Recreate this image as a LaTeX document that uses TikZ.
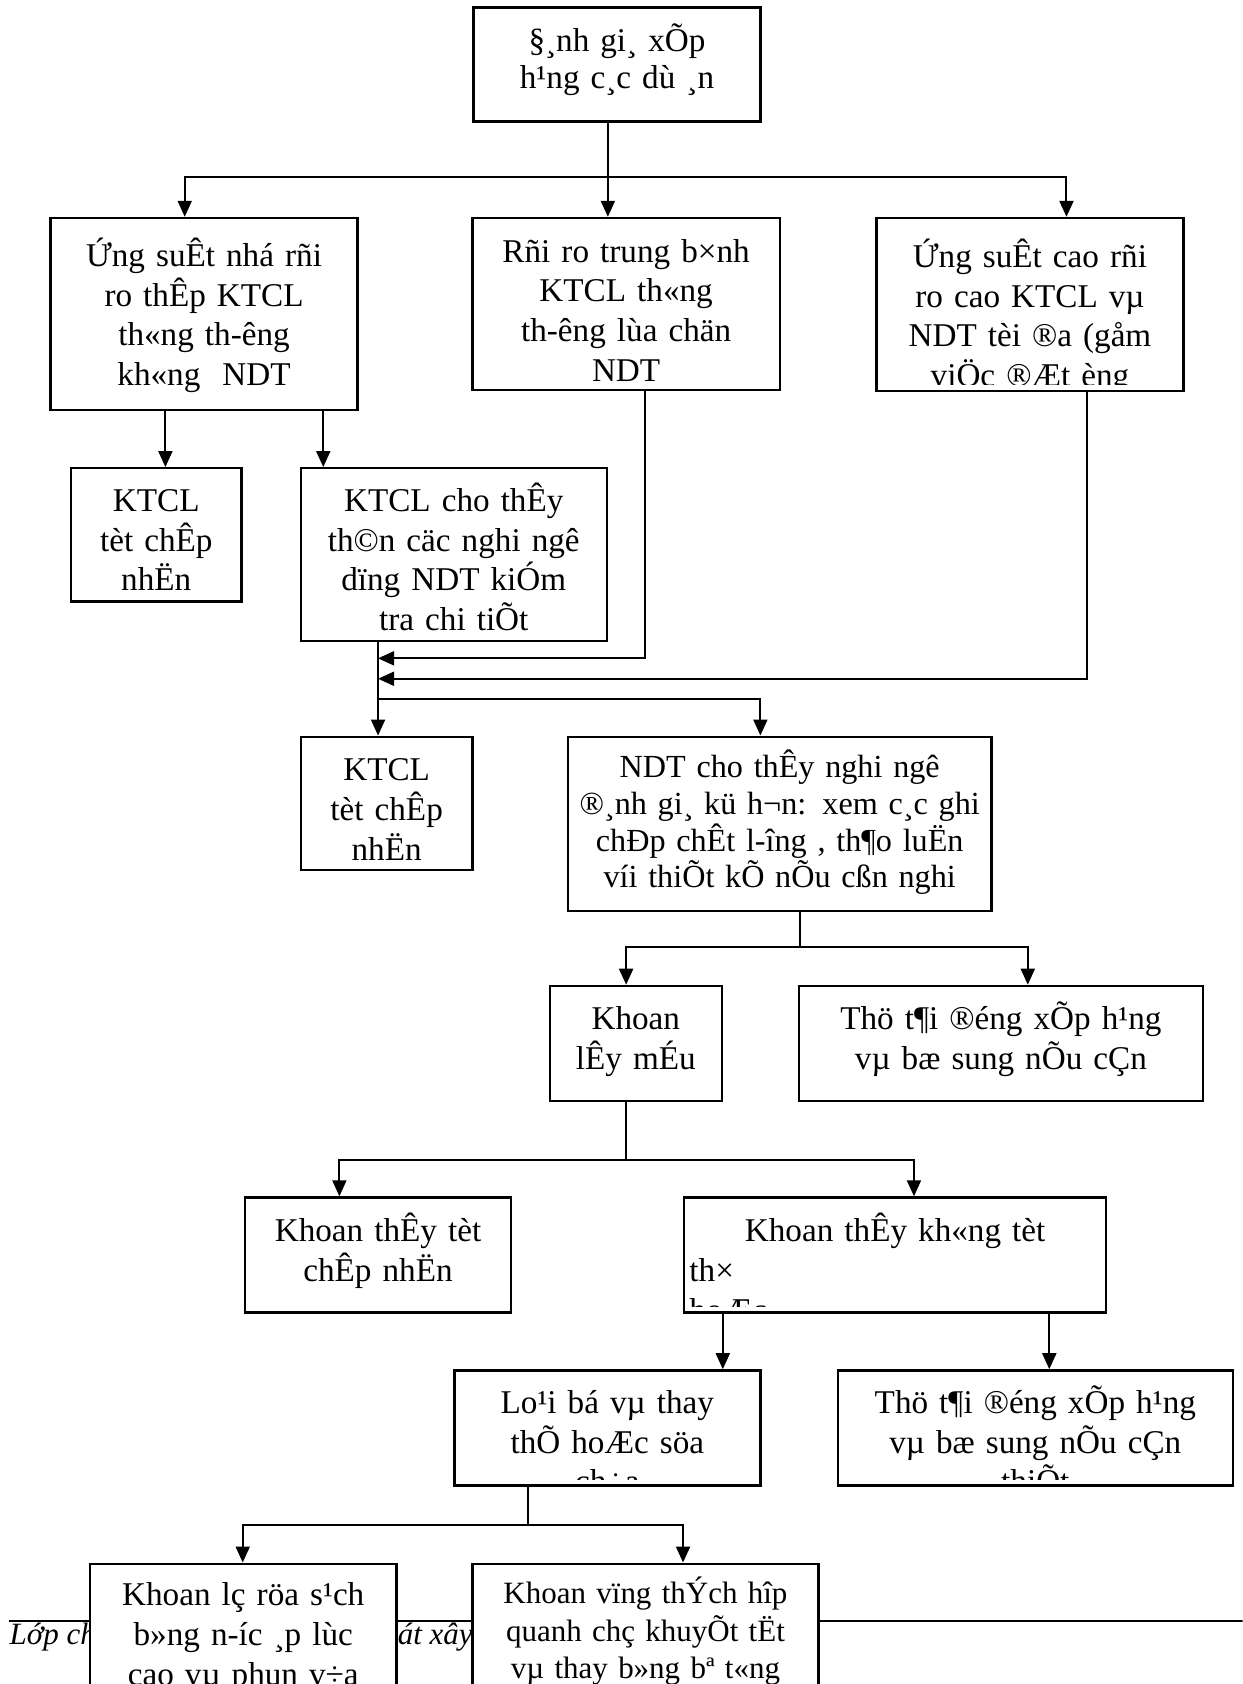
\documentclass[tikz,border=0pt]{standalone}
\usepackage{fontspec}
\setmainfont{Liberation Serif}
\usetikzlibrary{arrows.meta,fit}
\newcommand{\boxfont}{\fontsize{16.6}{19.9}\selectfont}
\newcommand{\hfont}{\fontsize{16.1}{18.4}\selectfont}
\newcommand{\pfont}{\fontsize{15.5}{18.8}\selectfont}
\newcommand{\footfont}{\fontsize{15.5}{18}\selectfont\itshape}
\tikzset{
  every picture/.style={line width=1pt},
  box/.style={draw,rectangle,fill=white,inner sep=0,line width=1.2pt},
  txt/.style={font=\boxfont,align=center,text width=9cm,inner sep=0,anchor=base},
  foot/.style={font=\footfont,inner sep=0},
  flow/.style={-{Triangle[length=8pt,width=7pt]}},
}

\begin{document}
\begin{tikzpicture}[x=0.5372pt,y=-0.5372pt]
\useasboundingbox (0,0) rectangle (1157,1568);
\clip (0,0) rectangle (1157,1568);
% page footer, behind the last two boxes
\coordinate (fl) at (8,1509);
\coordinate (fr) at (1157,1509);
\draw (fl) -- (fr);
\node[foot,anchor=base west] (ft1) at (8,1531) {Lớp ch};
\node[foot,anchor=base east] (ft2) at (441,1531) {át xây};
% top box
\node[box,fit={(441,7) (708,113)}] (A) {};
\node[txt] (tA) at (574.5,47.6) {§¸nh gi¸ xÕp\\[-1pt]h¹ng c¸c dù ¸n};
% three risk levels
\node[box,fit={(47,203) (333,382)}] (B) {};
\node[txt] (tB) at (190,248) {Ứng suÊt nhá rñi\\ro thÊp KTCL\\th«ng th-êng\\kh«ng\ \ NDT};
\node[box,fit={(440,203) (726,363)}] (C) {};
\node[txt] (tC) at (583,244) {Rñi ro trung b×nh\\KTCL th«ng\\th-êng lùa chän\\NDT};
\node[box,fit={(816,203) (1102,364)}] (D) {};
\begin{scope}
  \clip (D.north west) rectangle ([yshift=3.6pt]D.south east);
  \node[txt] (tD) at (959,249) {Ứng suÊt cao rñi\\ro cao KTCL vµ\\NDT tèi ®a (gåm\\viÖc ®Æt èng};
\end{scope}
% KTCL
\node[box,fit={(66,436) (225,560)}] (E) {};
\node[txt] (tE) at (145.5,476) {KTCL\\tèt chÊp\\nhËn};
\node[box,fit={(280,436) (565,597)}] (F) {};
\node[txt] (tF) at (422.5,476) {KTCL cho thÊy\\th©n cäc nghi ngê\\dïng NDT kiÓm\\tra chi tiÕt};
\node[box,fit={(280,686) (440,810)}] (G) {};
\node[txt] (tG) at (360,727) {KTCL\\tèt chÊp\\nhËn};
% NDT
\node[box,fit={(529,686) (923,848)}] (H) {};
\node[txt,font=\hfont] (tH) at (726,724) {NDT cho thÊy nghi ngê\\®¸nh gi¸ kü h¬n: xem c¸c ghi\\chÐp chÊt l-îng , th¶o luËn\\víi thiÕt kÕ nÕu cßn nghi};
\node[box,fit={(512,918) (672,1025)}] (I) {};
\node[txt] (tI) at (592,959) {Khoan\\lÊy mÉu};
\node[box,fit={(744,918) (1120,1025)}] (J) {};
\node[txt] (tJ) at (932,959) {Thö t¶i ®éng xÕp h¹ng\\vµ bæ sung nÕu cÇn};
% core drilling
\node[box,fit={(228,1115) (476,1222)}] (K) {};
\node[txt] (tK) at (352,1156) {Khoan thÊy tèt\\chÊp nhËn};
\node[box,fit={(637,1115) (1030,1222)}] (L) {};
\begin{scope}
  \clip (L.north west) rectangle ([yshift=3.6pt]L.south east);
  \node[txt] (tL) at (833.5,1156) {Khoan thÊy kh«ng tèt};
  \node[txt,align=left,text width=6cm,anchor=base west] (tL2) at (641,1193) {th×\\hoÆc};
\end{scope}
\node[box,fit={(423,1276) (708,1383)}] (M) {};
\begin{scope}
  \clip (M.north west) rectangle ([yshift=3.6pt]M.south east);
  \node[txt] (tM) at (565.5,1316) {Lo¹i bá vµ thay\\thÕ hoÆc söa\\ch÷a};
\end{scope}
\node[box,fit={(780,1276) (1148,1383)}] (N) {};
\begin{scope}
  \clip (N.north west) rectangle ([yshift=3.6pt]N.south east);
  \node[txt] (tN) at (964,1316) {Thö t¶i ®éng xÕp h¹ng\\vµ bæ sung nÕu cÇn\\thiÕt};
\end{scope}
% repair
\node[box,fit={(84,1456) (369,1600)}] (O) {};
\node[txt] (tO) at (226.5,1495) {Khoan lç röa s¹ch\\b»ng n-íc ¸p lùc\\cao vµ phun v÷a};
\node[box,fit={(440,1456) (762,1600)}] (P) {};
\node[txt,font=\pfont] (tP) at (601,1493) {Khoan vïng thÝch hîp\\quanh chç khuyÕt tËt\\vµ thay b»ng bª t«ng};
% connectors
\coordinate (j1) at (566,165);
\coordinate (jB) at (172,165);
\coordinate (jD) at (993,165);
\draw (j1 |- A.south) -- (j1);
\draw[flow] (j1) -- (j1 |- C.north);
\draw[flow] (j1) -- (jB) -- (jB |- B.north);
\draw[flow] (j1) -- (jD) -- (jD |- D.north);
\coordinate (kE) at (154,400);
\coordinate (kF) at (301,400);
\draw[flow] (kE |- B.south) -- (kE |- E.north);
\draw[flow] (kF |- B.south) -- (kF |- F.north);
\coordinate (m1) at (352,613);
\coordinate (m2) at (352,632);
\coordinate (m3) at (352,651);
\coordinate (kC) at (601,0);
\coordinate (kD) at (1012,0);
\coordinate (kH) at (708,0);
\draw[flow] (m1 |- F.south) -- (m1 |- G.north);
\draw[flow] (kC |- C.south) |- (m1);
\draw[flow] (kD |- D.south) |- (m2);
\draw[flow] (m3) -| (kH |- H.north);
\coordinate (j2) at (745,882);
\coordinate (kI) at (583,882);
\coordinate (kJ) at (957,882);
\draw (j2 |- H.south) -- (j2);
\draw[flow] (j2) -- (kI) -- (kI |- I.north);
\draw[flow] (j2) -- (kJ) -- (kJ |- J.north);
\coordinate (j3) at (583,1080);
\coordinate (kK) at (316,1080);
\coordinate (kL) at (851,1080);
\draw (j3 |- I.south) -- (j3);
\draw[flow] (j3) -- (kK) -- (kK |- K.north);
\draw[flow] (j3) -- (kL) -- (kL |- L.north);
\coordinate (kM) at (673,0);
\coordinate (kN) at (977,0);
\draw[flow] (kM |- L.south) -- (kM |- M.north);
\draw[flow] (kN |- L.south) -- (kN |- N.north);
\coordinate (j4) at (492,1420);
\coordinate (kO) at (226,1420);
\coordinate (kP) at (636,1420);
\draw (j4 |- M.south) -- (j4);
\draw[flow] (j4) -- (kO) -- (kO |- O.north);
\draw[flow] (j4) -- (kP) -- (kP |- P.north);
\end{tikzpicture}
\end{document}
